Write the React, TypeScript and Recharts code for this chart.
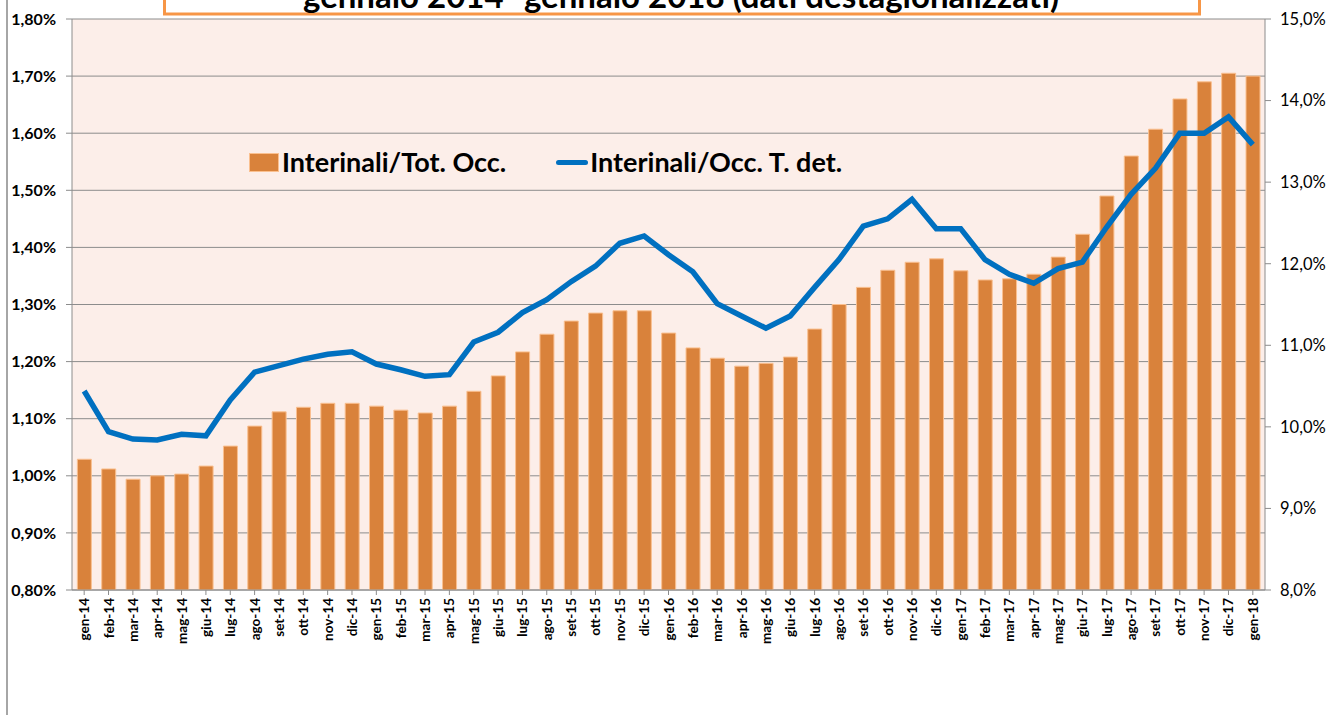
import { Bar, CartesianGrid, ComposedChart, Line, XAxis, YAxis } from "recharts";

const months = [
  "gen-14", "feb-14", "mar-14", "apr-14", "mag-14", "giu-14", "lug-14", "ago-14", "set-14", "ott-14", "nov-14", "dic-14",
  "gen-15", "feb-15", "mar-15", "apr-15", "mag-15", "giu-15", "lug-15", "ago-15", "set-15", "ott-15", "nov-15", "dic-15",
  "gen-16", "feb-16", "mar-16", "apr-16", "mag-16", "giu-16", "lug-16", "ago-16", "set-16", "ott-16", "nov-16", "dic-16",
  "gen-17", "feb-17", "mar-17", "apr-17", "mag-17", "giu-17", "lug-17", "ago-17", "set-17", "ott-17", "nov-17", "dic-17",
  "gen-18",
];

// Interinali / totale occupati (%), left axis
const totOcc = [
  1.029, 1.012, 0.994, 1.0, 1.003, 1.017, 1.052, 1.087, 1.112, 1.12, 1.127, 1.127,
  1.122, 1.115, 1.11, 1.122, 1.148, 1.175, 1.217, 1.248, 1.271, 1.285, 1.289, 1.289,
  1.25, 1.224, 1.206, 1.192, 1.197, 1.208, 1.257, 1.3, 1.33, 1.36, 1.374, 1.38,
  1.359, 1.343, 1.345, 1.353, 1.383, 1.423, 1.49, 1.56, 1.607, 1.66, 1.69, 1.705,
  1.7,
];

// Interinali / occupati a tempo determinato (%), right axis
const occTDet = [
  10.44, 9.94, 9.85, 9.84, 9.91, 9.89, 10.33, 10.67, 10.75, 10.83, 10.89, 10.92,
  10.77, 10.7, 10.62, 10.64, 11.04, 11.16, 11.4, 11.56, 11.78, 11.97, 12.25, 12.34,
  12.11, 11.9, 11.51, 11.36, 11.21, 11.36, 11.71, 12.05, 12.46, 12.55, 12.79, 12.43,
  12.43, 12.05, 11.87, 11.76, 11.94, 12.02, 12.45, 12.85, 13.17, 13.6, 13.6, 13.8,
  13.46,
];

const leftTicks = [0.8, 0.9, 1.0, 1.1, 1.2, 1.3, 1.4, 1.5, 1.6, 1.7, 1.8];
const rightTicks = [8, 9, 10, 11, 12, 13, 14, 15];

const title = "gennaio 2014- gennaio 2018 (dati destagionalizzati)";
const barName = "Interinali/Tot. Occ.";
const lineName = "Interinali/Occ. T. det.";

const data = months.map((m, i) => ({ month: m, tot: totOcc[i], det: occTDet[i] }));

const FONT = "Lato, 'Open Sans', sans-serif";
const ORANGE = "#D9823B";
const BLUE = "#0070C0";

function MonthTick({ x, y, payload }: any) {
  return (
    <text
      transform={`translate(${x},${y}) rotate(-90)`}
      textAnchor="end"
      dominantBaseline="central"
      fontSize={13.5}
      fontWeight={700}
      fontFamily={FONT}
      fill="#000"
    >
      {payload.value}
    </text>
  );
}

function ChartLegend() {
  return (
    <div
      style={{
        position: "absolute",
        left: 249,
        top: 146,
        display: "flex",
        alignItems: "center",
        fontFamily: FONT,
        fontWeight: 700,
        fontSize: 27,
        lineHeight: "32px",
        whiteSpace: "nowrap",
      }}
    >
      <span style={{ width: 28, height: 17, background: ORANGE, border: "1px solid #FAC090", marginRight: 3 }} />
      <span>{barName}</span>
      <span style={{ width: 32, height: 5, borderRadius: 3, background: BLUE, marginLeft: 50, marginRight: 2 }} />
      <span>{lineName}</span>
    </div>
  );
}

export default function App() {
  return (
    <div style={{ position: "absolute", left: 0, top: 0, width: 1327, height: 715, background: "#fff" }}>
      <ComposedChart
        width={1327}
        height={715}
        data={data}
        margin={{ top: 19, right: 0, bottom: 65, left: 0 }}
        barCategoryGap="22%"
      >
        <CartesianGrid yAxisId="left" vertical={false} stroke="#8C8C8C" fill="#FCEEE9" fillOpacity={1} />
        <XAxis
          dataKey="month"
          interval={0}
          height={60}
          tick={<MonthTick />}
          tickSize={5}
          tickMargin={3}
          axisLine={{ stroke: "#8C8C8C" }}
          tickLine={{ stroke: "#8C8C8C" }}
        />
        <YAxis
          yAxisId="left"
          width={72}
          domain={[0.8, 1.8]}
          ticks={leftTicks}
          tickFormatter={(v: number) => v.toFixed(2).replace(".", ",") + "%"}
          tick={{ fontSize: 16, fontWeight: 700, fill: "#000", fontFamily: FONT }}
          tickSize={6}
          tickMargin={10}
          axisLine={{ stroke: "#8C8C8C" }}
          tickLine={{ stroke: "#8C8C8C" }}
          allowDataOverflow
        />
        <YAxis
          yAxisId="right"
          orientation="right"
          width={62}
          domain={[8, 15]}
          ticks={rightTicks}
          tickFormatter={(v: number) => v.toFixed(1).replace(".", ",") + "%"}
          tick={{ fontSize: 16.5, fill: "#000", fontFamily: FONT }}
          tickSize={6}
          tickMargin={9}
          axisLine={{ stroke: "#8C8C8C" }}
          tickLine={{ stroke: "#8C8C8C" }}
          allowDataOverflow
        />
        <Bar
          yAxisId="left"
          dataKey="tot"
          name={barName}
          fill={ORANGE}
          stroke="#FAC090"
          strokeWidth={1}
          isAnimationActive={false}
        />
        <Line
          yAxisId="right"
          type="linear"
          dataKey="det"
          name={lineName}
          stroke={BLUE}
          strokeWidth={5.5}
          dot={false}
          activeDot={false}
          isAnimationActive={false}
        />
      </ComposedChart>
      <ChartLegend />
      <svg
        width={1327}
        height={715}
        style={{ position: "absolute", left: 0, top: 0, pointerEvents: "none" }}
      >
        <line x1={7} y1={0} x2={7} y2={715} stroke="#A6A6A6" strokeWidth={2} />
        <rect x={164.5} y={-10} width={1035} height={24} fill="#fff" stroke="#F79646" strokeWidth={3} />
        <text x={681} y={8} textAnchor="middle" fontFamily={FONT} fontWeight={700} fontSize={33} fill="#000">
          {title}
        </text>
      </svg>
    </div>
  );
}
